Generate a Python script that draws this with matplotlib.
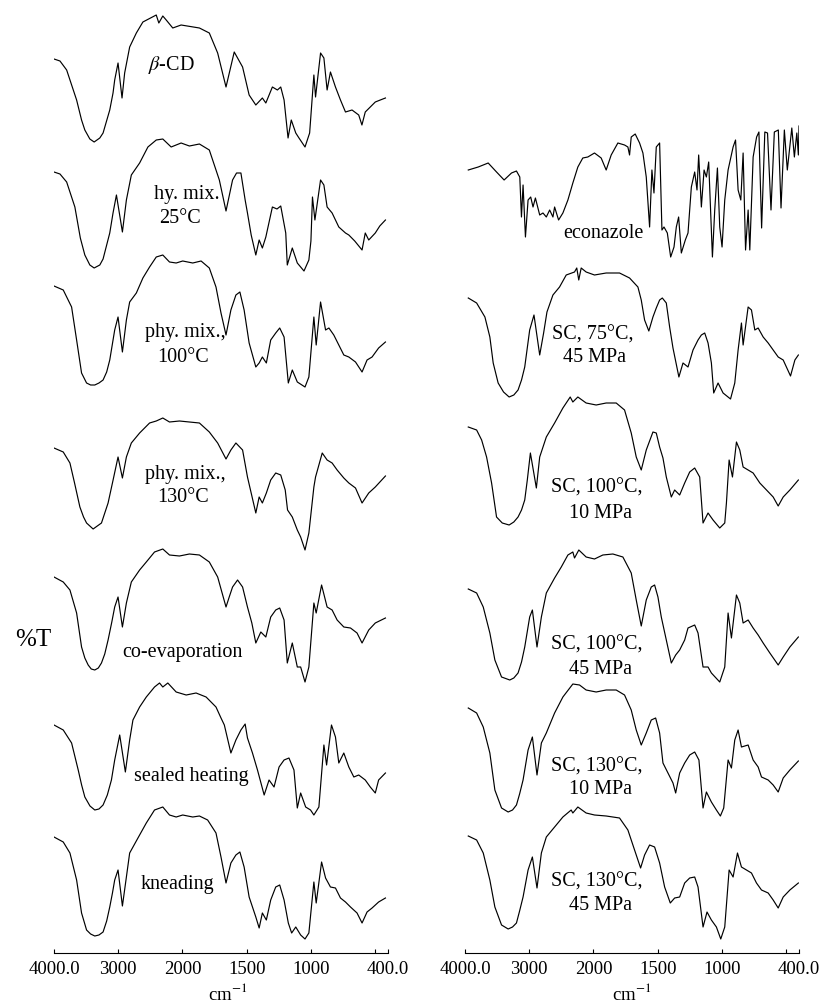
import matplotlib.pyplot as plt
import numpy as np

plt.rcParams['font.family'] = ['Liberation Serif', 'DejaVu Serif']
plt.rcParams['mathtext.fontset'] = 'stix'

# FTIR spectra.
# wn = wavenumber (cm-1), t = transmittance (arbitrary units, 0 = deepest band of that trace)

# --- left panel ---
bcd_wn = [4000, 3907, 3803, 3648, 3571, 3520, 3442, 3375, 3287, 3236, 3132, 3081, 3055, 3003, 2941, 2900, 2822, 2718, 2616, 2408,
          2368, 2306, 2253, 2151, 2021, 1868, 1791, 1726, 1661, 1597, 1532, 1481, 1429, 1378, 1351, 1300, 1261, 1235, 1209, 1178,
          1153, 1118, 1093, 1046, 1010, 977, 964, 925, 899, 874, 848, 809, 770, 731, 680, 628, 603, 577, 538, 499, 460, 420]
bcd_t = [88, 86, 77, 47, 27, 17, 8, 5, 9, 14, 37, 54, 67, 84, 49, 74, 100, 114, 125, 132,
         124, 131, 127, 119, 122, 119, 114, 94, 60, 95, 80, 52, 42, 49, 44, 60, 57, 60, 47, 9,
         27, 14, 9, 0, 14, 72, 50, 94, 89, 57, 75, 60, 47, 35, 37, 32, 22, 35, 40, 45, 47, 49]

hy_wn = [4000, 3907, 3803, 3675, 3590, 3520, 3442, 3375, 3287, 3236, 3132, 3081, 3028, 2935, 2873, 2796, 2667, 2538, 2408, 2306,
         2176, 2021, 1946, 1868, 1791, 1713, 1661, 1610, 1579, 1545, 1512, 1494, 1465, 1429, 1403, 1378, 1351, 1300, 1264, 1235,
         1196, 1184, 1145, 1106, 1054, 1016, 1000, 988, 969, 925, 899, 874, 835, 783, 731, 705, 659, 602, 577, 550,
         499, 464, 420]
hy_t = [99, 97, 89, 64, 33, 16, 6, 3, 6, 12, 38, 58, 76, 39, 71, 96, 108, 124, 131, 132,
        124, 128, 125, 127, 121, 91, 60, 91, 98, 98, 71, 58, 36, 16, 31, 23, 34, 64, 62, 65,
        38, 6, 23, 8, 0, 11, 30, 74, 51, 91, 86, 64, 58, 44, 38, 36, 30, 21, 38, 31,
        38, 45, 51]

p100_wn = [4000, 3856, 3726, 3648, 3571, 3493, 3430, 3365, 3300, 3236, 3180, 3132, 3055, 3003, 2935, 2873, 2822, 2718, 2616, 2512,
           2408, 2306, 2202, 2098, 1998, 1920, 1855, 1791, 1739, 1700, 1661, 1623, 1584, 1553, 1520, 1481, 1429, 1403, 1378, 1347,
           1313, 1274, 1243, 1209, 1176, 1145, 1106, 1046, 1016, 977, 959, 925, 886, 860, 822, 783, 744, 705, 653, 602,
           563, 524, 473, 420]
p100_t = [101, 97, 80, 47, 14, 4, 2, 2, 4, 7, 15, 27, 57, 70, 35, 67, 85, 94, 109, 120,
          130, 132, 125, 124, 126, 124, 126, 119, 100, 74, 52, 77, 92, 95, 77, 44, 20, 24, 30, 24,
          47, 54, 59, 50, 4, 17, 5, 0, 10, 70, 42, 85, 57, 59, 52, 42, 32, 30, 25, 15,
          27, 30, 39, 45]

p130_wn = [4000, 3856, 3752, 3680, 3597, 3540, 3493, 3391, 3261, 3158, 3080, 3003, 2935, 2873, 2796, 2667, 2512, 2408, 2306, 2202,
           2047, 1946, 1868, 1791, 1726, 1661, 1623, 1584, 1532, 1494, 1429, 1403, 1378, 1347, 1313, 1274, 1235, 1200, 1182, 1145,
           1106, 1080, 1046, 1016, 977, 964, 912, 874, 835, 796, 744, 705, 653, 602, 550, 499, 420]
p130_t = [102, 98, 87, 67, 43, 33, 27, 21, 27, 47, 70, 93, 72, 93, 107, 117, 127, 129, 132, 128,
          129, 128, 127, 118, 107, 91, 100, 107, 100, 73, 37, 53, 47, 57, 70, 77, 75, 60, 40, 33,
          20, 13, 0, 17, 63, 73, 97, 90, 87, 80, 72, 67, 62, 47, 57, 63, 74]

co_wn = [4000, 3856, 3752, 3648, 3571, 3520, 3468, 3420, 3365, 3310, 3261, 3210, 3158, 3100, 3055, 3003, 2935, 2873, 2796, 2667,
         2563, 2435, 2306, 2202, 2047, 1946, 1868, 1791, 1726, 1661, 1636, 1610, 1571, 1532, 1494, 1460, 1429, 1390, 1351, 1313,
         1274, 1243, 1209, 1184, 1145, 1106, 1080, 1046, 1016, 977, 959, 917, 874, 835, 796, 744, 692, 641, 602, 550,
         499, 420]
co_t = [105, 100, 92, 69, 35, 24, 17, 13, 12, 14, 19, 28, 42, 60, 75, 85, 55, 79, 100, 112,
        120, 130, 133, 127, 126, 128, 127, 120, 105, 75, 85, 95, 102, 95, 75, 59, 39, 50, 45, 65,
        72, 74, 62, 19, 39, 15, 15, 0, 15, 79, 69, 97, 75, 72, 62, 55, 54, 49, 39, 52,
        59, 64]

sh_wn = [4000, 3856, 3726, 3623, 3570, 3520, 3440, 3365, 3300, 3236, 3170, 3106, 3055, 2977, 2889, 2822, 2771, 2667, 2563, 2435,
         2357, 2306, 2228, 2098, 1971, 1894, 1816, 1739, 1700, 1674, 1623, 1584, 1545, 1512, 1494, 1455, 1416, 1364, 1326, 1287,
         1248, 1209, 1171, 1132, 1106, 1080, 1041, 1003, 977, 938, 899, 878, 840, 809, 783, 744, 705, 666, 628, 577,
         538, 499, 473, 420]
sh_t = [90, 85, 72, 45, 30, 18, 9, 5, 6, 10, 20, 35, 55, 80, 43, 75, 95, 108, 118, 128,
        132, 128, 132, 123, 120, 122, 118, 108, 97, 90, 62, 75, 85, 91, 77, 62, 45, 20, 35, 28,
        48, 55, 57, 45, 7, 22, 8, 5, 0, 8, 70, 50, 90, 78, 52, 62, 48, 38, 40, 35,
        28, 22, 35, 42]

kn_wn = [4000, 3856, 3752, 3648, 3571, 3493, 3430, 3365, 3300, 3236, 3180, 3132, 3090, 3055, 3003, 2935, 2873, 2822, 2693, 2563,
         2435, 2306, 2202, 2098, 1998, 1920, 1868, 1804, 1739, 1700, 1661, 1623, 1584, 1553, 1520, 1481, 1429, 1403, 1378, 1347,
         1313, 1274, 1243, 1209, 1176, 1150, 1118, 1080, 1046, 1016, 977, 959, 917, 886, 848, 809, 770, 731, 692, 641,
         602, 563, 524, 473, 420]
kn_t = [102, 97, 86, 59, 26, 9, 5, 3, 4, 7, 18, 32, 46, 59, 69, 33, 62, 86, 101, 116,
        129, 132, 124, 122, 124, 122, 123, 119, 106, 82, 56, 76, 84, 87, 72, 42, 22, 11, 26, 19,
        39, 52, 54, 39, 16, 6, 12, 4, 0, 6, 57, 36, 77, 61, 52, 51, 41, 37, 32, 26,
        16, 27, 31, 37, 41]

# --- right panel ---
ec_wn = [3949, 3794, 3639, 3509, 3391, 3276, 3199, 3147, 3121, 3096, 3059, 3018, 2977, 2941, 2904, 2837, 2786, 2734, 2682, 2631,
         2605, 2543, 2476, 2398, 2321, 2243, 2166, 2088, 1992, 1940, 1901, 1862, 1810, 1758, 1732, 1719, 1706, 1675, 1641, 1615,
         1589, 1563, 1545, 1529, 1511, 1485, 1467, 1451, 1425, 1399, 1373, 1355, 1337, 1316, 1285, 1264, 1238, 1212, 1194, 1181,
         1160, 1139, 1121, 1103, 1074, 1056, 1035, 1017, 999, 978, 952, 913, 894, 874, 853, 835, 816, 796, 783, 757,
         730, 712, 691, 666, 645, 618, 592, 561, 540, 514, 491, 456, 436, 417, 405, 400]
ec_t = [87, 90, 94, 85, 77, 84, 86, 80, 40, 72, 20, 57, 60, 50, 59, 42, 44, 40, 47, 40,
        50, 37, 44, 57, 74, 90, 99, 100, 104, 99, 87, 102, 114, 112, 110, 102, 120, 123, 114, 104,
        80, 30, 87, 64, 110, 114, 27, 30, 24, 0, 10, 30, 40, 4, 17, 24, 70, 85, 67, 102,
        50, 87, 80, 95, 0, 47, 89, 30, 10, 57, 87, 110, 117, 67, 57, 104, 7, 47, 7, 100,
        120, 125, 29, 125, 124, 47, 125, 127, 49, 127, 87, 129, 100, 124, 102, 131]

s75_wn = [3949, 3819, 3690, 3613, 3561, 3484, 3400, 3313, 3240, 3174, 3120, 3070, 2993, 2926, 2837, 2776, 2724, 2631, 2528, 2424,
          2295, 2260, 2229, 2191, 2114, 1992, 1901, 1797, 1719, 1654, 1628, 1602, 1569, 1537, 1511, 1485, 1464, 1433, 1407, 1381,
          1335, 1303, 1264, 1225, 1186, 1160, 1134, 1108, 1082, 1064, 1030, 991, 933, 900, 874, 848, 835, 796, 770, 744,
          718, 679, 640, 601, 562, 523, 466, 432, 405]
s75_t = [102, 97, 83, 63, 37, 17, 8, 3, 5, 10, 20, 33, 70, 85, 45, 67, 88, 105, 113, 125,
         128, 132, 120, 132, 128, 125, 127, 127, 122, 113, 100, 80, 69, 83, 92, 100, 102, 97, 73, 52,
         23, 37, 33, 50, 60, 65, 67, 57, 37, 7, 17, 7, 1, 17, 50, 77, 55, 93, 90, 70,
         72, 63, 57, 50, 43, 40, 24, 40, 45]

s1010_wn = [3949, 3819, 3741, 3664, 3586, 3509, 3420, 3313, 3240, 3174, 3120, 3070, 3030, 2982, 2889, 2837, 2734, 2605, 2476, 2362,
            2321, 2243, 2114, 1979, 1901, 1823, 1758, 1706, 1667, 1628, 1589, 1537, 1511, 1485, 1459, 1433, 1394, 1368, 1329, 1290,
            1251, 1212, 1173, 1147, 1108, 1069, 1017, 978, 965, 944, 918, 887, 861, 835, 796, 757, 705, 653, 601, 562,
            523, 471, 405]
s1010_t = [101, 98, 88, 71, 45, 11, 5, 3, 6, 11, 18, 28, 48, 75, 40, 71, 91, 105, 120, 131,
           126, 131, 125, 123, 125, 125, 118, 95, 71, 58, 78, 96, 95, 81, 70, 51, 31, 38, 33, 45,
           56, 60, 51, 5, 15, 8, 0, 5, 25, 68, 51, 86, 78, 61, 58, 55, 45, 38, 31, 22,
           31, 38, 48]

s1045_wn = [3949, 3819, 3716, 3613, 3535, 3431, 3303, 3240, 3174, 3120, 3070, 2993, 2951, 2879, 2811, 2734, 2605, 2501, 2398, 2321,
            2295, 2228, 2114, 1992, 1927, 1849, 1771, 1706, 1667, 1628, 1589, 1550, 1524, 1498, 1472, 1433, 1394, 1360, 1329, 1290,
            1264, 1212, 1186, 1147, 1108, 1082, 1017, 978, 952, 926, 887, 861, 835, 796, 757, 718, 679, 627, 562, 523,
            471, 405]
s1045_t = [93, 89, 75, 49, 22, 5, 2, 4, 9, 20, 35, 65, 72, 35, 65, 89, 104, 115, 127, 130,
           124, 132, 125, 123, 127, 128, 125, 109, 82, 56, 82, 95, 97, 85, 65, 42, 19, 27, 32, 42,
           54, 57, 49, 15, 15, 9, 0, 15, 69, 44, 87, 79, 59, 62, 54, 47, 39, 29, 17, 25,
           35, 45]

s1310_wn = [3949, 3819, 3716, 3613, 3535, 3431, 3328, 3260, 3199, 3150, 3096, 3018, 2951, 2879, 2811, 2734, 2605, 2476, 2321, 2217,
            2114, 1979, 1901, 1823, 1758, 1706, 1667, 1628, 1589, 1550, 1516, 1485, 1459, 1420, 1381, 1360, 1329, 1290, 1251, 1212,
            1179, 1147, 1121, 1082, 1043, 1012, 986, 952, 926, 900, 874, 848, 796, 757, 718, 692, 640, 601, 562, 523,
            471, 405]
s1310_t = [108, 103, 89, 63, 26, 8, 4, 6, 11, 22, 36, 66, 79, 41, 73, 83, 103, 119, 132, 131,
           126, 124, 126, 126, 121, 106, 86, 71, 83, 96, 98, 83, 53, 43, 33, 23, 43, 53, 61, 64,
           56, 8, 24, 14, 6, 0, 8, 56, 48, 76, 86, 69, 71, 56, 49, 39, 36, 31, 24, 38,
           46, 55]

s1345_wn = [3949, 3819, 3716, 3613, 3535, 3431, 3328, 3260, 3199, 3150, 3096, 3018, 2951, 2879, 2811, 2734, 2605, 2476, 2347, 2321,
            2243, 2114, 1992, 1901, 1797, 1732, 1680, 1633, 1602, 1563, 1524, 1485, 1446, 1402, 1368, 1329, 1290, 1251, 1212, 1186,
            1147, 1116, 1082, 1043, 1009, 978, 944, 913, 879, 848, 809, 770, 731, 692, 640, 601, 562, 523, 471, 405]
s1345_t = [103, 99, 86, 59, 32, 14, 10, 12, 16, 28, 42, 69, 82, 51, 86, 102, 112, 122, 129, 126,
           132, 126, 124, 123, 121, 109, 89, 71, 84, 94, 92, 76, 52, 36, 41, 42, 56, 61, 62, 52,
           12, 27, 19, 12, 0, 12, 69, 62, 86, 72, 69, 66, 56, 49, 46, 39, 31, 42, 49, 56]

tick_pos = [4000, 3000, 2000, 1500, 1000, 500, 400]
tick_lab = ['4000.0', '3000', '2000', '1500', '1000', '', '400.0']

left_traces = [(bcd_wn, bcd_t), (hy_wn, hy_t), (p100_wn, p100_t), (p130_wn, p130_t),
               (co_wn, co_t), (sh_wn, sh_t), (kn_wn, kn_t)]
right_traces = [(ec_wn, ec_t), (s75_wn, s75_t), (s1010_wn, s1010_t), (s1045_wn, s1045_t),
                (s1310_wn, s1310_t), (s1345_wn, s1345_t)]

# vertical stacking: pixel row of each trace's lowest point
left_base = [147, 271, 387, 550, 682, 815, 939]
right_base = [257, 400, 528, 682, 816, 939]

W, H = 830, 1007
AX_BOTTOM, AX_TOP = 953, 5


# wavenumber axis is compressed 2x above 2000 cm-1
def fwd(x):
    x = np.asarray(x, dtype=float)
    return np.where(x > 2000, 2000 + (x - 2000) / 2.0, x)


def inv(u):
    u = np.asarray(u, dtype=float)
    return np.where(u > 2000, 2000 + (u - 2000) * 2.0, u)


def make_panel(fig, left_px, traces, bases):
    ax = fig.add_axes([left_px / W, 1 - AX_BOTTOM / H, 334 / W, (AX_BOTTOM - AX_TOP) / H])
    ax.set_xscale('function', functions=(fwd, inv))
    for (wn, t), base in zip(traces, bases):
        ax.plot(wn, np.array(t) + (AX_BOTTOM - base), color='black', lw=0.85)
    ax.set_xlim(4000, 400)
    ax.set_ylim(0, AX_BOTTOM - AX_TOP)
    ax.set_xticks(tick_pos)
    ax.set_xticklabels(tick_lab)
    ax.set_yticks([])
    for s in ['left', 'right', 'top']:
        ax.spines[s].set_visible(False)
    ax.spines['bottom'].set_linewidth(0.8)
    ax.tick_params(axis='x', direction='in', length=3, width=0.8, pad=6, labelsize=13.5)
    return ax


fig = plt.figure(figsize=(W / 100, H / 100), dpi=100)
make_panel(fig, 54, left_traces, left_base)
make_panel(fig, 465, right_traces, right_base)


def label(x, y, s, size=14.5):
    fig.text(x / W, 1 - y / H, s, ha='center', va='center', fontsize=size)


label(171, 65, r'$\beta$-CD')
label(187, 195, 'hy. mix.')
label(180, 218, '25°C')
label(185, 333, 'phy. mix.,')
label(183, 357, '100°C')
label(185, 475, 'phy. mix.,')
label(183, 498, '130°C')
label(182, 652, 'co-evaporation')
label(191, 777, 'sealed heating')
label(177, 885, 'kneading')

label(603, 233, 'econazole')
label(593, 335, 'SC, 75°C,')
label(594, 358, '45 MPa')
label(597, 488, 'SC, 100°C,')
label(600, 513, '10 MPa')
label(597, 645, 'SC, 100°C,')
label(600, 670, '45 MPa')
label(597, 767, 'SC, 130°C,')
label(600, 790, '10 MPa')
label(597, 882, 'SC, 130°C,')
label(600, 905, '45 MPa')

label(33, 640, '%T', size=18)
label(228, 993, r'cm$^{-1}$', size=13.5)
label(632, 993, r'cm$^{-1}$', size=13.5)

fig.savefig('out.png', dpi=100)
